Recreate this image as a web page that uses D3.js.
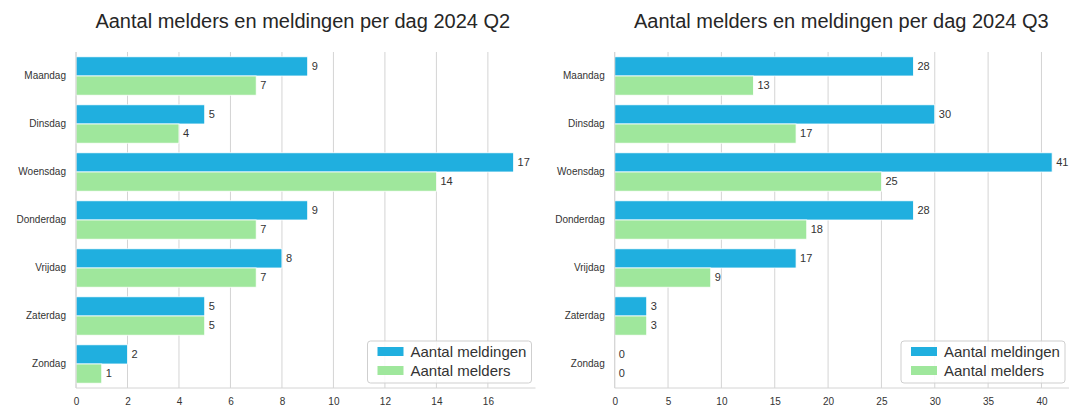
<!DOCTYPE html>
<html>
<head>
<meta charset="utf-8">
<script src="https://cdnjs.cloudflare.com/ajax/libs/d3/7.8.5/d3.min.js"></script>
<style>
  html, body { margin: 0; padding: 0; background: #fff; }
  svg { display: block; font-family: "Liberation Sans", Arial, sans-serif; }
</style>
</head>
<body>
<script>
// data
const days = ["Maandag", "Dinsdag", "Woensdag", "Donderdag", "Vrijdag", "Zaterdag", "Zondag"]
const seriesNames = ["Aantal meldingen", "Aantal melders"]
const q2Meldingen = [9, 5, 17, 9, 8, 5, 2]
const q2Melders = [7, 4, 14, 7, 7, 5, 1]
const q3Meldingen = [28, 30, 41, 28, 17, 3, 0]
const q3Melders = [13, 17, 25, 18, 9, 3, 0]
const q2Ticks = [0, 2, 4, 6, 8, 10, 12, 14, 16]
const q3Ticks = [0, 5, 10, 15, 20, 25, 30, 35, 40]

const width = 1069,
  height = 410,
  colors = ["#20afdf", "#9fe79c"],
  gridColor = "#d4d4d4",
  textColor = "#333"

const svg = d3.select("body")
  .append("svg")
  .attr("width", width)
  .attr("height", height)

// draws one grouped horizontal bar panel
const drawPanel = (opts) => {
  const { left, right, top, bottom, title, a, b, ticks } = opts
  const maxVal = d3.max(a.concat(b))

  const x = d3.scaleLinear()
    .domain([0, maxVal * 1.05])
    .range([left, right])
  const y = d3.scaleBand()
    .domain(days)
    .range([top, bottom])
    .paddingInner(0)
  const inner = d3.scaleBand()
    .domain([0, 1])
    .range([y.bandwidth() * 0.1, y.bandwidth() * 0.9])

  const g = svg.append("g")

  // gridlines
  g.selectAll(".grid")
    .data(ticks)
    .join("line")
    .attr("x1", d => x(d))
    .attr("x2", d => x(d))
    .attr("y1", top)
    .attr("y2", bottom)
    .style("stroke", gridColor)
    .style("stroke-width", 1)

  // bars
  const rows = days.map((d, i) => ({ day: d, vals: [a[i], b[i]] }))
  rows.forEach(row => {
    row.vals.forEach((v, j) => {
      g.append("rect")
        .attr("x", x(0))
        .attr("y", y(row.day) + inner(j))
        .attr("width", x(v) - x(0))
        .attr("height", inner.bandwidth())
        .style("fill", colors[j])
        .style("stroke", "#fff")
        .style("stroke-width", 0.8)

      g.append("text")
        .text(v)
        .attr("x", x(v) + 4)
        .attr("y", y(row.day) + inner(j) + inner.bandwidth() / 2)
        .attr("dy", "0.35em")
        .style("font-size", "11px")
        .style("fill", textColor)
    })
  })

  // spines
  g.append("line")
    .attr("x1", left).attr("x2", left)
    .attr("y1", top).attr("y2", bottom)
    .style("stroke", gridColor)
  g.append("line")
    .attr("x1", left).attr("x2", right)
    .attr("y1", bottom).attr("y2", bottom)
    .style("stroke", gridColor)

  // x axis
  const xAxis = g.append("g")
    .attr("transform", `translate(0,${bottom})`)
    .call(d3.axisBottom(x).tickValues(ticks).tickSize(0).tickPadding(10))
  xAxis.select(".domain").remove()
  xAxis.selectAll("text")
    .style("font-size", "10px")
    .style("font-family", "Liberation Sans, Arial, sans-serif")
    .style("fill", textColor)

  // y axis
  const yAxis = g.append("g")
    .attr("transform", `translate(${left},0)`)
    .call(d3.axisLeft(y).tickSize(0).tickPadding(10))
  yAxis.select(".domain").remove()
  yAxis.selectAll("text")
    .style("font-size", "10px")
    .style("font-family", "Liberation Sans, Arial, sans-serif")
    .style("fill", textColor)

  // title
  g.append("text")
    .text(title)
    .attr("x", (left + right) / 2 - 3)
    .attr("y", 28)
    .attr("text-anchor", "middle")
    .style("font-size", "20px")
    .style("fill", "#262626")

  // legend
  const lw = 164, lh = 42
  const lx = Math.min(right, width) - 4 - lw
  const ly = bottom - 5 - lh
  const legend = g.append("g")
    .attr("transform", `translate(${lx},${ly})`)
  legend.append("rect")
    .attr("width", lw)
    .attr("height", lh)
    .attr("rx", 3)
    .style("fill", "rgba(255,255,255,0.85)")
    .style("stroke", "#cfcfcf")
  seriesNames.forEach((name, i) => {
    legend.append("rect")
      .attr("x", 10)
      .attr("y", 6 + i * 19)
      .attr("width", 26)
      .attr("height", 9)
      .style("fill", colors[i])
    legend.append("text")
      .text(name)
      .attr("x", 43)
      .attr("y", 10.5 + i * 19)
      .attr("dy", "0.35em")
      .style("font-size", "15px")
      .style("fill", textColor)
  })
}

drawPanel({
  left: 76, right: 535.5, top: 52, bottom: 388,
  title: "Aantal melders en meldingen per dag 2024 Q2",
  a: q2Meldingen, b: q2Melders, ticks: q2Ticks
})
drawPanel({
  left: 614.7, right: 1074, top: 52, bottom: 388,
  title: "Aantal melders en meldingen per dag 2024 Q3",
  a: q3Meldingen, b: q3Melders, ticks: q3Ticks
})
</script>
</body>
</html>
